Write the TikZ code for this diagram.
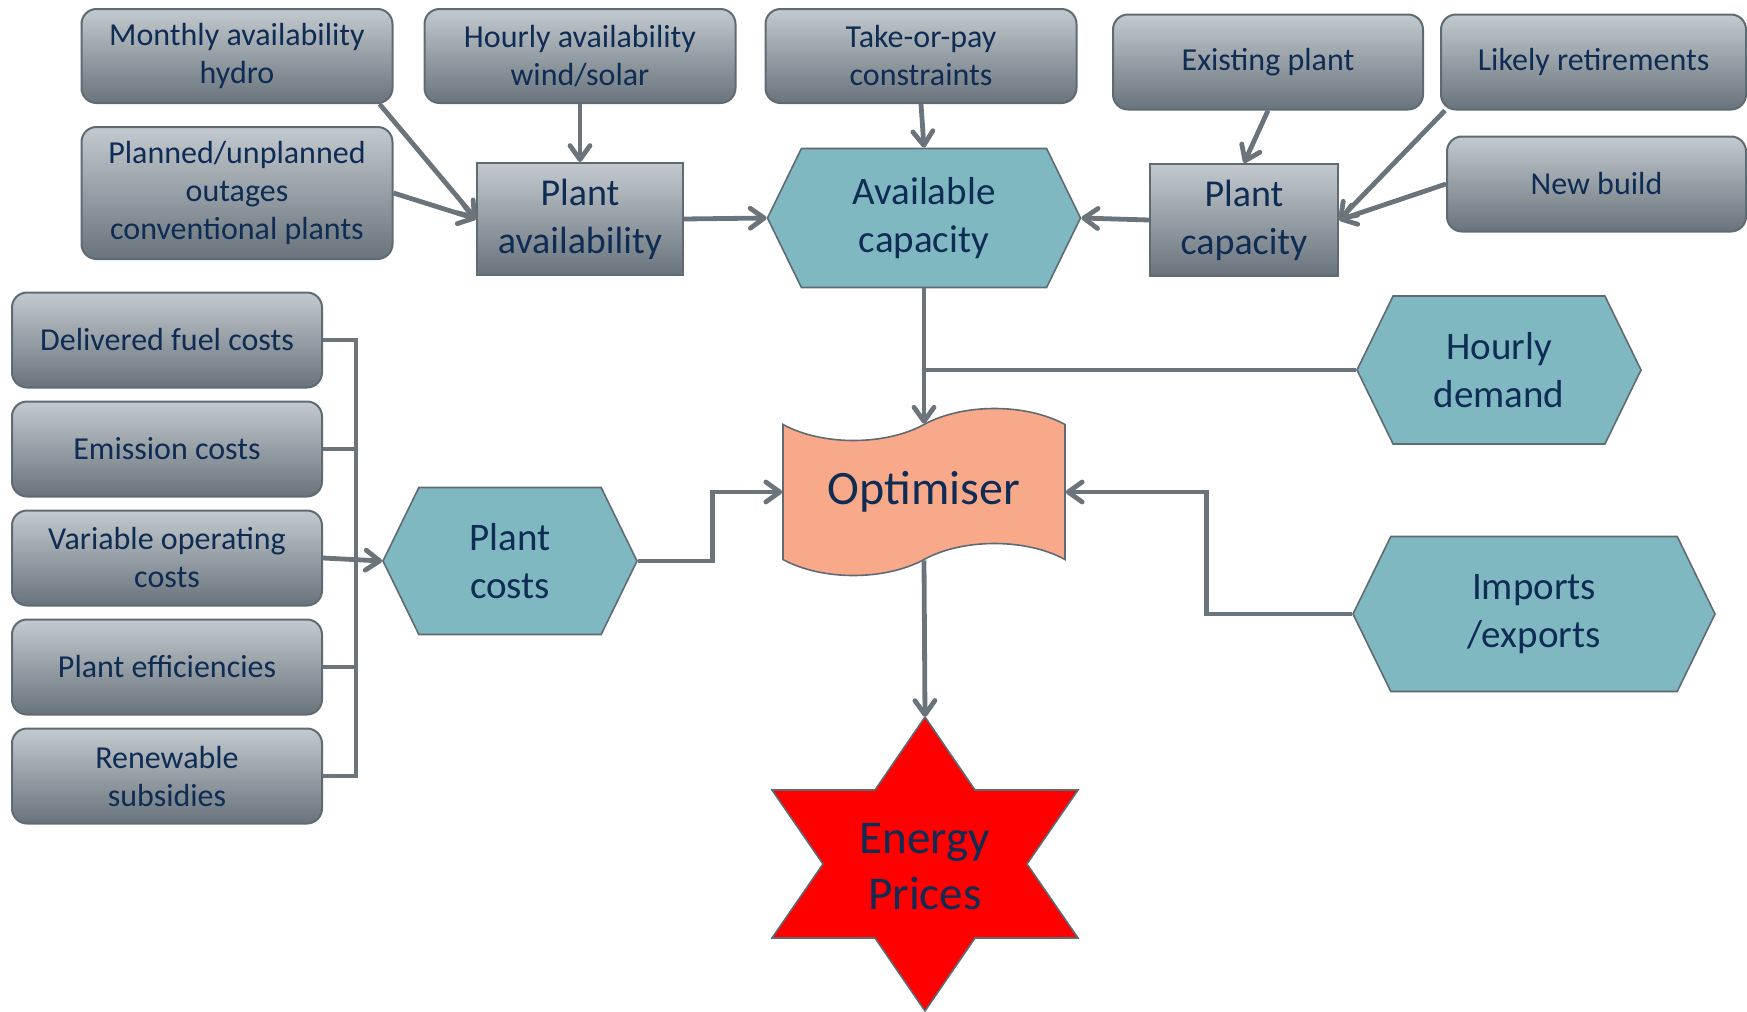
\documentclass[tikz,border=0pt]{standalone}
\usepackage{fontspec}
\setmainfont{Carlito}
\usepackage{xcolor}
\usepackage{tikz}
\usetikzlibrary{shapes.symbols, arrows.meta, positioning, calc}
\definecolor{boxtop}{HTML}{C3CACF}
\definecolor{boxbot}{HTML}{69737B}
\definecolor{edgegrey}{HTML}{5F6B73}
\definecolor{linegrey}{HTML}{6C747B}
\definecolor{hexteal}{HTML}{7FB8C1}
\definecolor{salmon}{HTML}{F8A98A}
\definecolor{navy}{HTML}{0E2C54}

\tikzset{
  inbox/.style={draw=edgegrey, line width=1pt, rounded corners=7.5pt, top color=boxtop, bottom color=boxbot,
    text=navy, align=center, font=\fontsize{16}{19}\selectfont, minimum width=155.5pt, minimum height=47pt, inner sep=2pt},
  sumbox/.style={inbox, rounded corners=0pt, font=\fontsize{19}{24}\selectfont},
  hexnode/.style={signal, signal to=east and west, signal pointer angle=128, draw=edgegrey, line width=0.8pt,
    fill=hexteal, text=navy, align=center, font=\fontsize{19.5}{24}\selectfont, inner sep=2pt},
  wire/.style={draw=linegrey, line width=2.4pt},
  arr/.style={wire, -{Straight Barb[length=7pt,width=10pt,round]}}
}

\begin{document}
\begin{tikzpicture}[x=0.5pt, y=-0.5pt]
  \useasboundingbox (0,0) rectangle (1747,1012);

  \node[inbox] (hydro) at (237,56) {Monthly availability\\hydro};
  \node[inbox] (windsolar) at (580,56) {Hourly availability\\wind/solar};
  \node[inbox] (takepay) at (921,56) {Take-or-pay\\constraints};
  \node[inbox, minimum width=155pt, minimum height=47.5pt] (existing) at (1268,62) {Existing plant};
  \node[inbox, minimum width=152.5pt, minimum height=47.5pt] (retire) at (1593.5,62) {Likely retirements};
  \node[inbox, minimum width=149.5pt, minimum height=47.5pt] (newbuild) at (1596.5,184) {New build};
  \node[inbox, minimum height=66pt] (outages) at (237,193) {Planned/unplanned\\outages\\conventional plants};

  \node[sumbox, minimum width=103pt, minimum height=56pt] (pavail) at (580,219) {Plant\\availability};
  \node[sumbox, minimum width=94pt, minimum height=56pt] (pcap) at (1244,220) {Plant\\capacity};
  \node[hexnode, minimum width=156.5pt, minimum height=69.5pt] (avail) at (924,218) {Available\\capacity};
  \node[hexnode, minimum width=142pt, minimum height=74pt] (demand) at (1499,370) {Hourly\\demand};
  \node[hexnode, minimum width=181pt, minimum height=77.5pt] (imports) at (1534,614) {Imports\\/exports};
  \node[hexnode, minimum width=127pt, minimum height=73.5pt] (costs) at (510,561) {Plant\\costs};

  \node[tape, draw=edgegrey, line width=0.8pt, fill=salmon, tape bend height=16pt, minimum width=141pt, minimum height=83.5pt,
    text=navy, font=\fontsize{24}{28}\selectfont] (opt) at (924,492) {Optimiser};

  \node[inbox, minimum width=155pt, minimum height=47.5pt] (fuel) at (167,340) {Delivered fuel costs};
  \node[inbox, minimum width=155pt, minimum height=47.5pt, below=6pt of fuel] (emis) {Emission costs};
  \node[inbox, minimum width=155pt, minimum height=47.5pt, below=6pt of emis] (varop) {Variable operating\\costs};
  \node[inbox, minimum width=155pt, minimum height=47.5pt, below=6pt of varop] (eff) {Plant efficiencies};
  \node[inbox, minimum width=155pt, minimum height=47.5pt, below=6pt of eff] (subs) {Renewable\\subsidies};

  \draw[draw=edgegrey, line width=0.8pt, fill=red, shift={(925,864)}]
    (0,-147) -- (50,-74) -- (153,-74) -- (102,0) -- (153,74) -- (50,74) -- (0,147)
    -- (-50,74) -- (-153,74) -- (-102,0) -- (-153,-74) -- (-50,-74) -- cycle;
  \node[text=navy, align=center, font=\fontsize{23.5}{28}\selectfont, minimum width=153pt, minimum height=147pt] (prices) at (925,867) {Energy\\Prices};

  \draw[arr] ([xshift=-7pt]hydro.south east) -- (pavail.west);
  \draw[arr] (outages.east) -- (pavail.west);
  \draw[arr] (windsolar.south) -- (pavail.north);
  \draw[arr] (pavail.east) -- (avail.west);
  \draw[arr] (takepay.south) -- (avail.north);
  \draw[arr] (existing.south) -- (pcap.north);
  \draw[arr] ([xshift=2.5pt]retire.south west) -- (pcap.east);
  \draw[arr] (newbuild.west) -- (pcap.east);
  \draw[arr] (pcap.west) -- (avail.east);

  \draw[arr] (avail.south) -- (opt.north);
  \draw[wire] (demand.west) -- (avail.south |- demand.west);
  \draw[arr] (costs.east) -- ++(75,0) |- (opt.west);
  \draw[arr] (imports.west) -- ++(-146,0) |- (opt.east);
  \draw[arr] (opt.south) -- (925,717);

  \draw[wire] (fuel.east) -- ++(33,0) coordinate (bus) -- (bus |- subs.east) -- (subs.east);
  \draw[wire] (emis.east) -- (bus |- emis.east);
  \draw[wire] (eff.east) -- (bus |- eff.east);
  \draw[arr] (varop.east) -- (costs.west);
\end{tikzpicture}
\end{document}
